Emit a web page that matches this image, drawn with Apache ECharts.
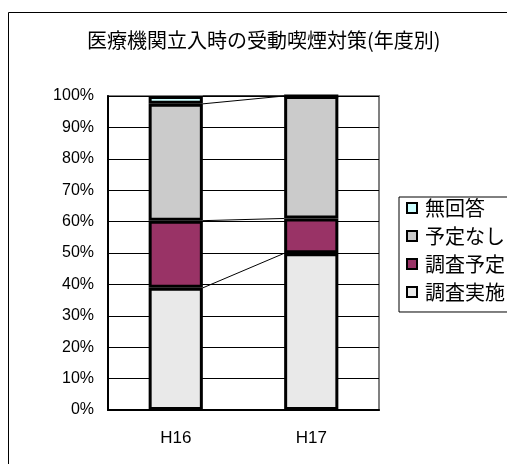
<!DOCTYPE html>
<html><head><meta charset="utf-8">
<script src="https://cdn.jsdelivr.net/npm/echarts@6/dist/echarts.min.js"></script>
<style>html,body{margin:0;padding:0;background:#fff}#c{width:507px;height:464px}</style>
</head><body><div id="c"></div>
<script>
const categories = ['H16', 'H17'];
const seriesNames = ['調査実施', '調査予定', '予定なし', '無回答'];
const jisshi = [38.9, 49.9];
const yotei = [21.4, 11.1];
const nashi = [37.2, 39.0];
const mukaito = [2.5, 0];
const legendOrder = ['無回答', '予定なし', '調査予定', '調査実施'];
const colors = ['#e9e9e9', '#993366', '#cbcbcb', '#ccffff'];

const values = [jisshi, yotei, nashi, mukaito];
// cumulative tops for series lines
const lineData = [];
let c0 = 0, c1 = 0;
values.forEach(v => { c0 += v[0]; c1 += v[1]; lineData.push([0, c0, c1]); });

const chart = echarts.init(document.getElementById('c'), null, {renderer: 'canvas'});
const cjk = '"Noto Sans CJK JP", sans-serif';
const opt = {
  animation: false,
  title: {
    text: '医療機関立入時の受動喫煙対策(年度別)',
    left: 82, top: 25,
    textStyle: {fontFamily: cjk, fontSize: 20, fontWeight: 'normal', color: '#000'}
  },
  graphic: [{
    type: 'rect', z: -10, silent: true,
    shape: {x: 8.5, y: 12.5, width: 700, height: 700},
    style: {fill: 'none', stroke: '#000', lineWidth: 1}
  }],
  legend: {
    orient: 'vertical', left: 399, top: 197,
    data: legendOrder,
    icon: 'rect', itemWidth: 10, itemHeight: 10, itemGap: 8,
    padding: [1, 20, 10, 7],
    borderColor: '#000', borderWidth: 1,
    textStyle: {fontFamily: cjk, fontSize: 20, color: '#000', padding: [0, 0, 0, 3]},
    itemStyle: {borderColor: '#000', borderWidth: 2}
  },
  grid: {left: 108, right: 128, top: 96, bottom: 54, show: true, borderColor: '#808080', borderWidth: 2, backgroundColor: '#fff'},
  xAxis: {
    type: 'category', data: categories,
    axisLine: {lineStyle: {color: '#000', width: 2}},
    axisTick: {inside: true, length: 5, lineStyle: {color: '#000'}},
    axisLabel: {fontFamily: 'Liberation Sans', fontSize: 17, color: '#000', margin: 20}
  },
  yAxis: {
    type: 'value', min: 0, max: 100, interval: 10,
    axisLine: {show: true, lineStyle: {color: '#000', width: 2}},
    axisTick: {show: false},
    splitLine: {lineStyle: {color: '#000', width: 1}},
    axisLabel: {formatter: '{value}%', fontFamily: 'Liberation Sans', fontSize: 16, color: '#000', margin: 14}
  },
  series: values.map((v, i) => ({
    name: seriesNames[i], type: 'bar', stack: 'all', data: v, barWidth: '40%',
    itemStyle: {color: colors[i], borderColor: '#000', borderWidth: 3}
  })).concat([{
    type: 'custom', name: 'serieslines', silent: true, z: 1,
    coordinateSystem: 'cartesian2d',
    encode: {x: 0, y: [1, 2]},
    data: lineData,
    renderItem: function (params, api) {
      const p0 = api.coord([0, api.value(1)]);
      const p1 = api.coord([1, api.value(2)]);
      const half = api.size([1, 0])[0] * 0.2;
      return {type: 'line', shape: {x1: p0[0] + half, y1: p0[1], x2: p1[0] - half, y2: p1[1]},
        style: {stroke: '#000', lineWidth: 1}};
    }
  }])
};
chart.setOption(opt);
</script></body></html>
